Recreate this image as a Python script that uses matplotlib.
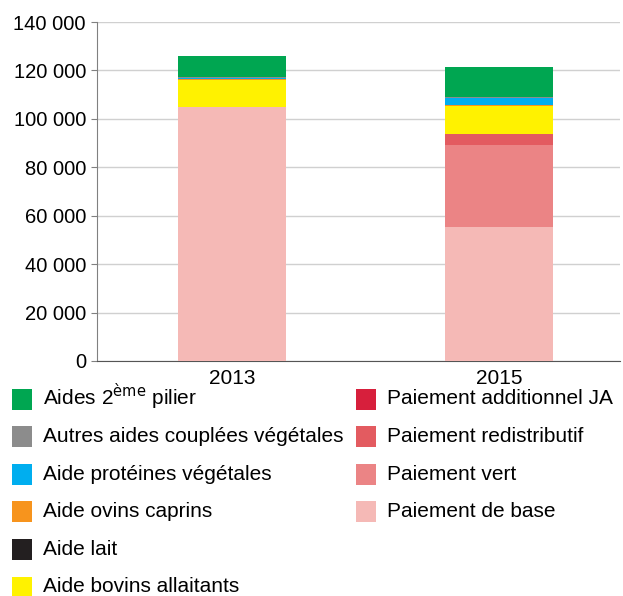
import matplotlib.pyplot as plt
from matplotlib.patches import Rectangle
from matplotlib.ticker import FuncFormatter

plt.rcParams["font.family"] = ["Liberation Sans", "DejaVu Sans"]

years = ["2013", "2015"]

# stacked from bottom to top
series = [
    "Paiement de base",
    "Paiement vert",
    "Paiement redistributif",
    "Paiement additionnel JA",
    "Aide bovins allaitants",
    "Aide lait",
    "Aide ovins caprins",
    "Aide protéines végétales",
    "Autres aides couplées végétales",
    "Aides 2$^{\\rm ème}$ pilier",
]
colors = [
    "#f5b9b6", "#eb8485", "#e35b60", "#d71f3c", "#fff200",
    "#231f20", "#f7941d", "#00aeef", "#8c8c8c", "#00a651",
]
values = [
    [105000, 55500],
    [0, 33500],
    [0, 4600],
    [0, 150],
    [11000, 11500],
    [0, 100],
    [500, 400],
    [300, 3000],
    [300, 300],
    [9000, 12400],
]

W, H = 623, 596
fig = plt.figure(figsize=(W / 100, H / 100), dpi=100)
ax = fig.add_axes([97 / W, 1 - 361 / H, 523 / W, 339 / H])

x = [0, 1]
bottom = [0, 0]
for name, col, vals in zip(series, colors, values):
    ax.bar(x, vals, width=0.405, bottom=bottom, color=col, zorder=3)
    bottom = [b + v for b, v in zip(bottom, vals)]

ax.set_xlim(-0.506, 1.453)
ax.set_ylim(0, 140000)
ax.set_yticks(range(0, 140001, 20000))
ax.yaxis.set_major_formatter(FuncFormatter(lambda v, p: f"{int(v):,}".replace(",", " ")))
ax.set_xticks(x)
ax.set_xticklabels(years)
ax.tick_params(axis="x", length=0, labelsize=15, pad=6)
ax.tick_params(axis="y", length=4, color="#808080", labelsize=14.5, pad=4)
ax.grid(axis="y", color="#d0d0d0", linewidth=1, zorder=0)
for s in ["top", "right"]:
    ax.spines[s].set_visible(False)
ax.spines["left"].set_color("#808080")
ax.spines["bottom"].set_color("#555555")

# legend drawn by hand: two columns, first column top to bottom
columns = [([9, 8, 7, 6, 5, 4], 12), ([3, 2, 1, 0], 356)]
for idx, x0 in columns:
    for row, i in enumerate(idx):
        yc = 399 + row * 37.6
        fig.patches.append(Rectangle((x0 / W, 1 - (yc + 10.5) / H), 20 / W, 21 / H,
                                     facecolor=colors[i], edgecolor="none",
                                     transform=fig.transFigure))
        fig.text((x0 + 31) / W, 1 - (yc + 5.5) / H, series[i], fontsize=15,
                 va="baseline", ha="left")

fig.savefig("out.png", dpi=100)
